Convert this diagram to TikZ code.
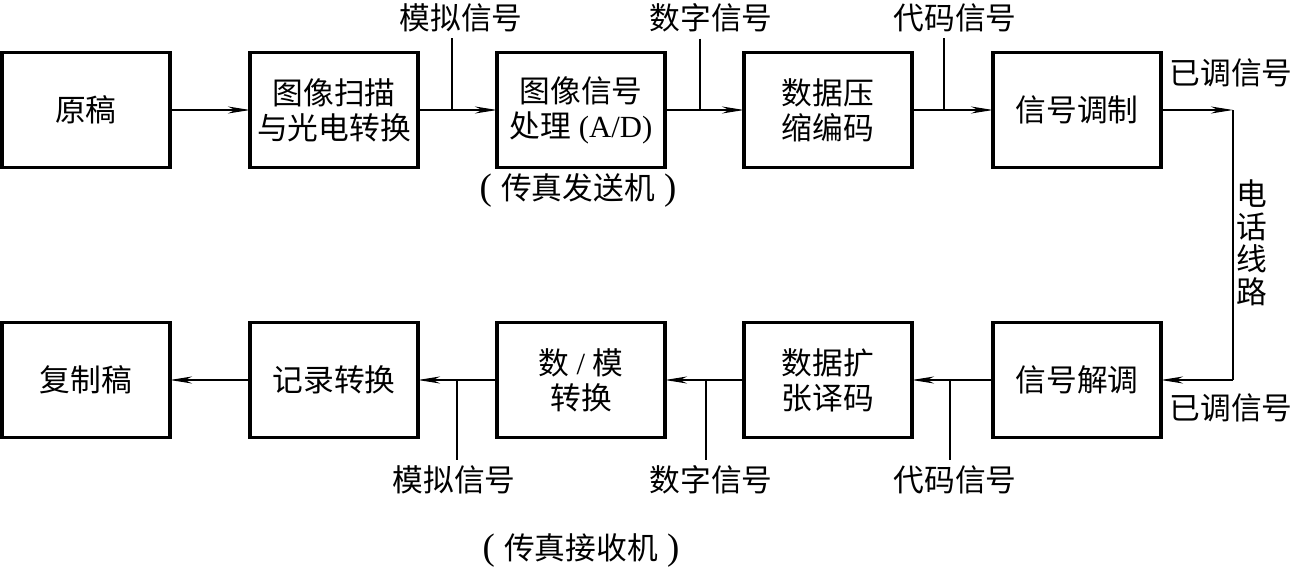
\documentclass[tikz,border=0pt]{standalone}
\usepackage{fontspec}
\setmainfont{Liberation Serif}
\newfontfamily\cjk{Noto Sans CJK SC}
\usetikzlibrary{arrows.meta}
\tikzset{block/.style={draw,line width=2pt,outer sep=0pt,minimum width=3.36cm,minimum height=2.3cm,align=center},
 flow/.style={-{Stealth[length=4.4mm,width=1.4mm,inset=1.4mm]},line width=0.8pt},
 tick/.style={line width=0.6pt},
 every node/.style={font=\fontsize{17.5}{20}\selectfont\cjk}}
\newcommand\bigparen[1]{{\rmfamily\fontsize{21}{24}\selectfont#1}}

\begin{document}
\begin{tikzpicture}[x=0.02cm,y=-0.02cm]
\useasboundingbox (0,0) rectangle (1292,568);
\foreach \x/\name/\txt in {86/orig/原稿,334/scan/图像扫描\\与光电转换,581/proc/图像信号\\处理{\rmfamily\ (A/D)},828/comp/数据压\\缩编码,1077/mod/信号调制} {
 \node[block] (\name) at (\x,110) {\txt};
}
\foreach \x/\name/\txt in {86/copy/复制稿,334/rec/记录转换,581/dac/数{\rmfamily\ /\ }模\\转换,828/dec/数据扩\\张译码,1077/demod/信号解调} {
 \node[block] (\name) at (\x,380) {\txt};
}
\draw[flow] (orig)--(scan);
\draw[flow] (scan)--(proc);
\draw[flow] (proc)--(comp);
\draw[flow] (comp)--(mod);
\draw[flow] (demod)--(dec);
\draw[flow] (dec)--(dac);
\draw[flow] (dac)--(rec);
\draw[flow] (rec)--(copy);
\coordinate (lineA) at (1233,110);
\coordinate (lineB) at (1233,380);
\draw[flow] (mod)--(lineA);
\draw[line width=0.8pt] (lineA)--(lineB);
\draw[flow] (lineB)--(demod);
\node (phone) at (1252,243) [align=center,font=\fontsize{17.5}{18.5}\selectfont\cjk] {电\\话\\线\\路};
\node (modA) at (1231,73) {已调信号};
\node (modB) at (1231,408) {已调信号};
\node (anaA) at (461,18) {模拟信号};
\node (digA) at (711,18) {数字信号};
\node (codA) at (955,18) {代码信号};
\node (anaB) at (454,480) {模拟信号};
\node (digB) at (711,480) {数字信号};
\node (codB) at (955,480) {代码信号};
\draw[tick] (anaA.south -| 452,0)--(452,110);
\draw[tick] (digA.south -| 700,0)--(700,110);
\draw[tick] (codA.south -| 944,0)--(944,110);
\draw[tick] (anaB.north -| 457,0)--(457,380);
\draw[tick] (digB.north -| 706,0)--(706,380);
\draw[tick] (codB.north -| 950,0)--(950,380);
\node (send) at (578,190) {\bigparen{(}\hspace{0.3em}传真发送机\hspace{0.3em}\bigparen{)}};
\node (recv) at (581,550) {\bigparen{(}\hspace{0.3em}传真接收机\hspace{0.3em}\bigparen{)}};
\end{tikzpicture}
\end{document}
